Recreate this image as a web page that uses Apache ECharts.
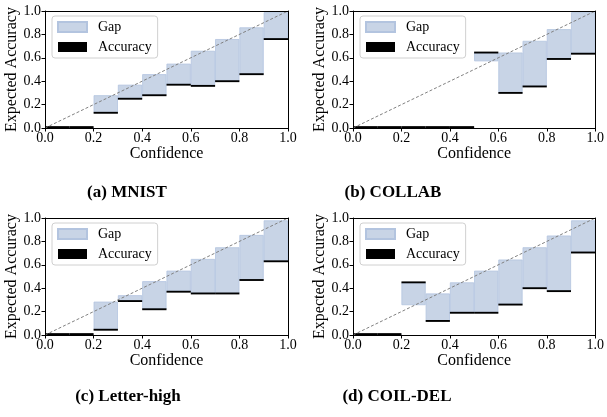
<!DOCTYPE html>
<html>
<head>
<meta charset="utf-8">
<script src="https://cdn.jsdelivr.net/npm/echarts@6/dist/echarts.min.js"></script>
<style>
html,body{margin:0;padding:0;background:#fff;}
#c{width:607px;height:417px;}
</style>
</head>
<body>
<div id="c"></div>
<script>
// ---- data ----
const bins = ['0.0-0.1','0.1-0.2','0.2-0.3','0.3-0.4','0.4-0.5','0.5-0.6','0.6-0.7','0.7-0.8','0.8-0.9','0.9-1.0'];
const xTicks = [0.0, 0.2, 0.4, 0.6, 0.8, 1.0];

const mnistAcc   = [0, 0, 0.13, 0.25, 0.28, 0.37, 0.36, 0.40, 0.46, 0.76];
const mnistConf  = [null, null, 0.28, 0.37, 0.46, 0.55, 0.66, 0.76, 0.86, 0.99];

const collabAcc  = [0, 0, 0, 0, 0, 0.645, 0.30, 0.355, 0.59, 0.635];
const collabConf = [null, null, null, null, null, 0.57, 0.645, 0.745, 0.845, 0.99];

const letterAcc  = [0, 0, 0.045, 0.29, 0.22, 0.37, 0.355, 0.355, 0.47, 0.63];
const letterConf = [null, null, 0.285, 0.34, 0.46, 0.55, 0.65, 0.75, 0.855, 0.98];

const coilAcc    = [0, 0, 0.45, 0.12, 0.19, 0.19, 0.26, 0.40, 0.375, 0.705];
const coilConf   = [null, null, 0.255, 0.355, 0.45, 0.55, 0.645, 0.75, 0.85, 0.98];

const captions = ['(a) MNIST', '(b) COLLAB', '(c) Letter-high', '(d) COIL-DEL'];
const diag = [[0, 0], [1, 1]];

// ---- layout ----
const panels = [
  {acc: mnistAcc,  conf: mnistConf,  grid: {left: 45,  top: 11,  width: 243, height: 117}, cap: [127, 193]},
  {acc: collabAcc, conf: collabConf, grid: {left: 353, top: 11,  width: 244, height: 117}, cap: [393, 193]},
  {acc: letterAcc, conf: letterConf, grid: {left: 45,  top: 218, width: 243, height: 117}, cap: [128, 397]},
  {acc: coilAcc,   conf: coilConf,   grid: {left: 353, top: 218, width: 244, height: 117}, cap: [397, 397]}
];

const SERIF = '"Liberation Serif", "DejaVu Serif", serif';
const GAP_COLOR = '#c8d4e6';
const LINE_T = 0.016;

const option = {
  animation: false,
  backgroundColor: '#fff',
  grid: [], xAxis: [], yAxis: [], series: [], legend: [], graphic: []
};

panels.forEach((p, i) => {
  option.grid.push(Object.assign({containLabel: false}, p.grid));
  const xv = option.xAxis.length;
  // visible value x axis (bottom)
  option.xAxis.push({
    type: 'value', gridIndex: i, min: 0, max: 1, interval: 0.2, position: 'bottom', z: 10,
    name: 'Confidence', nameLocation: 'middle', nameGap: 16,
    nameTextStyle: {fontFamily: SERIF, fontSize: 16, color: '#000'},
    axisLine: {show: true, onZero: false, lineStyle: {color: '#000', width: 1}},
    axisTick: {show: true, inside: false, length: 3.5, lineStyle: {color: '#000'}},
    axisLabel: {fontFamily: SERIF, fontSize: 14, color: '#000', margin: 3,
      formatter: v => v.toFixed(1)},
    splitLine: {show: false}
  });
  const xc = option.xAxis.length;
  // hidden category axis for the bins
  option.xAxis.push({type: 'category', gridIndex: i, data: bins, show: false, boundaryGap: true});
  // top spine
  option.xAxis.push({
    type: 'value', gridIndex: i, min: 0, max: 1, position: 'top', z: 10,
    axisLine: {show: true, onZero: false, lineStyle: {color: '#000', width: 1}},
    axisTick: {show: false}, axisLabel: {show: false}, splitLine: {show: false}
  });
  const yl = option.yAxis.length;
  option.yAxis.push({
    type: 'value', gridIndex: i, min: 0, max: 1, interval: 0.2, position: 'left', z: 10,
    name: 'Expected Accuracy', nameLocation: 'middle', nameGap: 23,
    nameTextStyle: {fontFamily: SERIF, fontSize: 16, color: '#000'},
    axisLine: {show: true, onZero: false, lineStyle: {color: '#000', width: 1}},
    axisTick: {show: true, inside: false, length: 3.5, lineStyle: {color: '#000'}},
    axisLabel: {fontFamily: SERIF, fontSize: 14, color: '#000', margin: 4,
      formatter: v => v.toFixed(1)},
    splitLine: {show: false}
  });
  option.yAxis.push({
    type: 'value', gridIndex: i, min: 0, max: 1, position: 'right', z: 10,
    axisLine: {show: true, onZero: false, lineStyle: {color: '#000', width: 1}},
    axisTick: {show: false}, axisLabel: {show: false}, splitLine: {show: false}
  });

  const gapBase = p.acc.map((a, k) => p.conf[k] == null ? 0 : Math.min(a, p.conf[k]));
  const gapH = p.acc.map((a, k) => p.conf[k] == null ? 0 : Math.abs(p.conf[k] - a));
  const accBase = p.acc.map(a => Math.max(0, a - LINE_T / 2));
  const accH = p.acc.map(() => LINE_T);

  const common = {type: 'bar', xAxisIndex: xc, yAxisIndex: yl, barWidth: '100%', barGap: '-100%', animation: false};
  option.series.push(Object.assign({}, common, {
    name: 'gapBase' + i, stack: 'gap' + i, data: gapBase, silent: true, z: 2,
    itemStyle: {color: 'rgba(0,0,0,0)'}
  }));
  option.series.push(Object.assign({}, common, {
    name: 'Gap', stack: 'gap' + i, data: gapH, z: 2,
    itemStyle: {color: GAP_COLOR, borderColor: '#b3c4df', borderWidth: 0.8}
  }));
  option.series.push(Object.assign({}, common, {
    name: 'accBase' + i, stack: 'acc' + i, data: accBase, silent: true, z: 3,
    itemStyle: {color: 'rgba(0,0,0,0)'}
  }));
  option.series.push(Object.assign({}, common, {
    name: 'Accuracy', stack: 'acc' + i, data: accH, z: 3,
    itemStyle: {color: '#000'}
  }));
  option.series.push({
    type: 'line', xAxisIndex: xv, yAxisIndex: yl, data: diag, symbol: 'none', z: 4,
    lineStyle: {color: '#808080', width: 1, type: [3, 2]}, silent: true
  });

  option.legend.push({
    data: ['Gap', 'Accuracy'], orient: 'vertical',
    left: p.grid.left + 7, top: p.grid.top + 5,
    itemWidth: 29, itemHeight: 10, itemGap: 6, icon: 'rect',
    padding: [4, 6, 4, 5],
    borderColor: '#d0d0d0', borderWidth: 1, borderRadius: 3, backgroundColor: '#fff',
    textStyle: {fontFamily: SERIF, fontSize: 14, color: '#000', lineHeight: 14, padding: [0, 0, 0, 6]},
    selectedMode: false,
    z: 20
  });

  option.graphic.push({
    type: 'text', x: p.cap[0], y: p.cap[1], z: 20,
    style: {text: captions[i], textAlign: 'center', textVerticalAlign: 'middle',
      font: 'bold 17px ' + SERIF, fill: '#000'}
  });
});

const chart = echarts.init(document.getElementById('c'), null, {renderer: 'canvas'});
chart.setOption(option);
</script>
</body>
</html>
